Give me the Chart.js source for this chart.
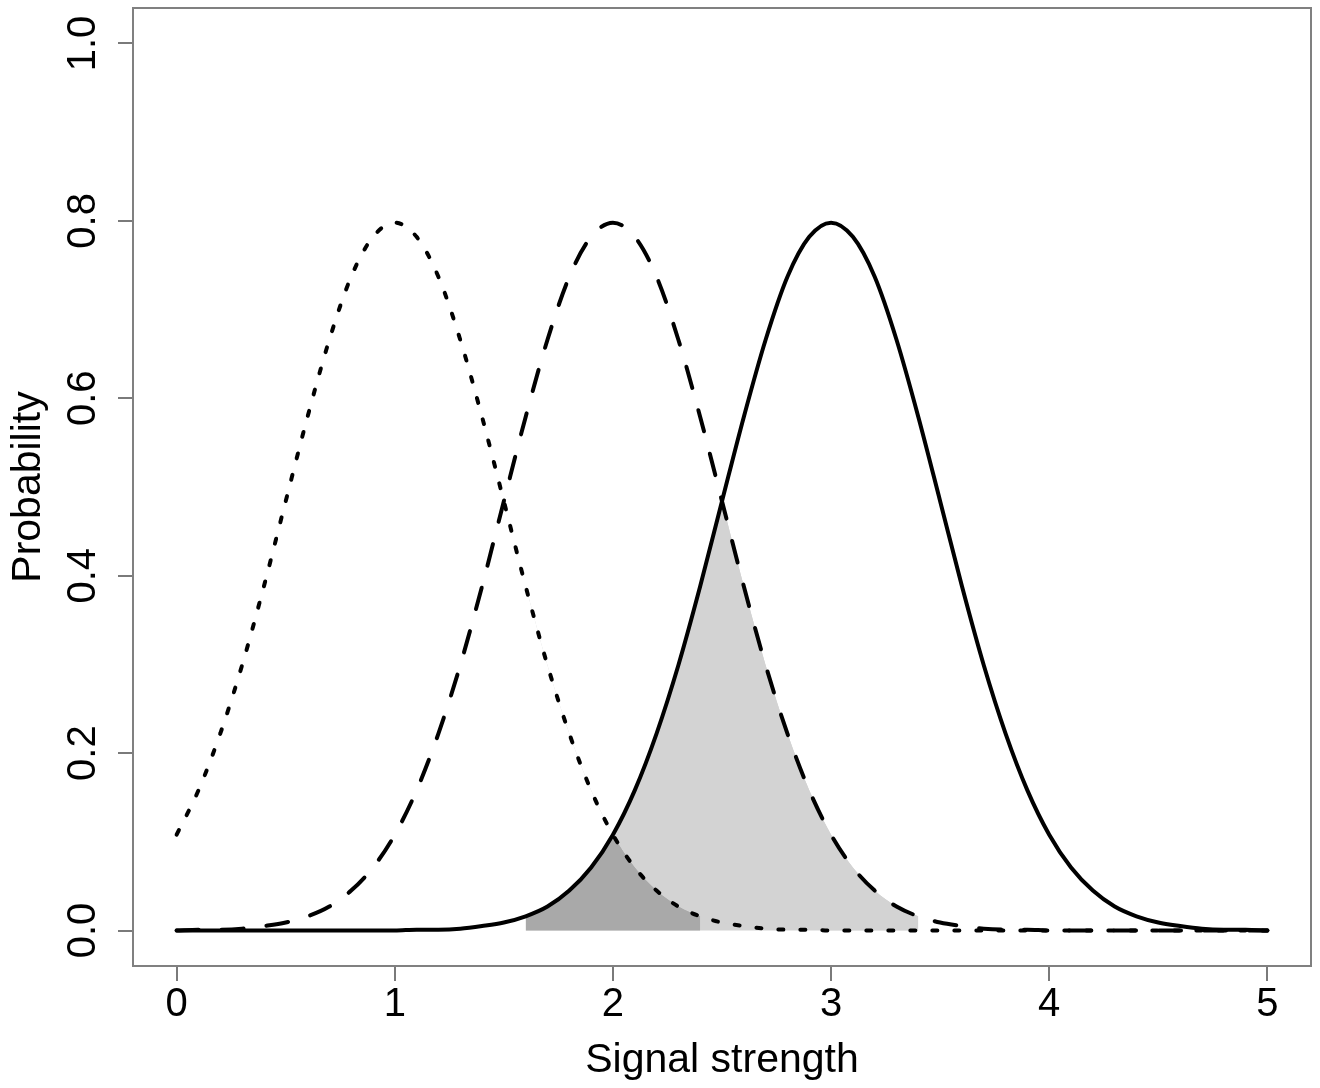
<!DOCTYPE html>
<html>
<head>
<meta charset="utf-8">
<style>
  html, body { margin: 0; padding: 0; background: #ffffff; }
  #wrap { width: 1320px; height: 1088px; }
</style>
<script src="https://cdn.jsdelivr.net/npm/chart.js@4.4.1/dist/chart.umd.min.js"></script>
</head>
<body>
<div id="wrap"><canvas id="c" width="1320" height="1088"></canvas></div>
<script>
// ---- data ----
const signal = [
  0.0,0.1,0.2,0.3,0.4,0.5,0.6,0.7,0.8,0.9,
  1.0,1.1,1.2,1.3,1.4,1.5,1.6,1.7,1.8,1.9,
  2.0,2.1,2.2,2.3,2.4,2.5,2.6,2.7,2.8,2.9,
  3.0,3.1,3.2,3.3,3.4,3.5,3.6,3.7,3.8,3.9,
  4.0,4.1,4.2,4.3,4.4,4.5,4.6,4.7,4.8,4.9,5.0
];
// dotted curve (centred at 1)
const weakCurve = [
  0.108,0.158,0.222,0.299,0.388,0.484,0.579,0.666,0.737,0.782,
  0.798,0.782,0.737,0.666,0.579,0.484,0.388,0.299,0.222,0.158,
  0.108,0.071,0.045,0.027,0.016,0.009,0.005,0.002,0.001,0.001,
  0,0,0,0,0,0,0,0,0,0,
  0,0,0,0,0,0,0,0,0,0,0
];
// dashed curve (centred at 2)
const mediumCurve = [
  0,0.001,0.001,0.002,0.005,0.009,0.016,0.027,0.045,0.071,
  0.108,0.158,0.222,0.299,0.388,0.484,0.579,0.666,0.737,0.782,
  0.798,0.782,0.737,0.666,0.579,0.484,0.388,0.299,0.222,0.158,
  0.108,0.071,0.045,0.027,0.016,0.009,0.005,0.002,0.001,0.001,
  0,0,0,0,0,0,0,0,0,0,0
];
// solid curve (centred at 3)
const strongCurve = [
  0,0,0,0,0,0,0,0,0,0,
  0,0.001,0.001,0.002,0.005,0.009,0.016,0.027,0.045,0.071,
  0.108,0.158,0.222,0.299,0.388,0.484,0.579,0.666,0.737,0.782,
  0.798,0.782,0.737,0.666,0.579,0.484,0.388,0.299,0.222,0.158,
  0.108,0.071,0.045,0.027,0.016,0.009,0.005,0.002,0.001,0.001,0
];
// shaded-region limits (x values)
const shadeStart = 1.6;
const lightEnd = 3.4;
const darkEnd = 2.4;

const xTicks = [0, 1, 2, 3, 4, 5];
const yTicks = [0.0, 0.2, 0.4, 0.6, 0.8, 1.0];
const xTitle = 'Signal strength';
const yTitle = 'Probability';

// ---- build library structures ----
function pts(arr, from, to) {
  const out = [];
  signal.forEach((x, i) => {
    if ((from === undefined || x >= from - 1e-9) && (to === undefined || x <= to + 1e-9)) {
      out.push({ x: x, y: arr[i] });
    }
  });
  return out;
}

const FONT = "'Liberation Sans', Arial, Helvetica, sans-serif";
const LIGHT = '#d3d3d3';
const DARK = '#a9a9a9';
const NONE = 'rgba(0,0,0,0)';

const lineBase = {
  pointRadius: 0,
  borderWidth: 4,
  borderColor: '#000000',
  cubicInterpolationMode: 'monotone',
  fill: false,
  order: 0
};
const fillBase = {
  pointRadius: 0,
  borderWidth: 0,
  borderColor: NONE,
  cubicInterpolationMode: 'monotone'
};

// indices: 0 lightBase, 1 darkBase, 2 weakRef, 3 lightCut, 4 mediumRef, 5 whiteCut, 6-8 lines
const datasets = [
  Object.assign({}, fillBase, { label: 'lightBase', data: pts(strongCurve, shadeStart, lightEnd), backgroundColor: LIGHT, fill: 'origin', order: 9 }),
  Object.assign({}, fillBase, { label: 'darkBase', data: pts(strongCurve, shadeStart, darkEnd), backgroundColor: DARK, fill: 'origin', order: 8 }),
  Object.assign({}, fillBase, { label: 'weakRef', data: pts(weakCurve, shadeStart, lightEnd), backgroundColor: NONE, fill: false, order: 10 }),
  Object.assign({}, fillBase, { label: 'lightCut', data: pts(strongCurve, shadeStart, lightEnd), backgroundColor: NONE, fill: { target: 2, above: LIGHT, below: NONE }, order: 7 }),
  Object.assign({}, fillBase, { label: 'mediumRef', data: pts(mediumCurve), backgroundColor: NONE, fill: false, order: 10 }),
  Object.assign({}, fillBase, { label: 'whiteCut', data: pts(strongCurve), backgroundColor: NONE, fill: { target: 4, above: '#ffffff', below: NONE }, order: 6 }),
  Object.assign({}, lineBase, { label: 'weak', data: pts(weakCurve), borderDash: [5, 17], borderCapStyle: 'round' }),
  Object.assign({}, lineBase, { label: 'medium', data: pts(mediumCurve), borderDash: [22, 23], borderCapStyle: 'round' }),
  Object.assign({}, lineBase, { label: 'strong', data: pts(strongCurve), borderCapStyle: 'round' })
];

const boxPlugin = {
  id: 'box',
  afterDraw(chart) {
    const a = chart.chartArea;
    const ctx = chart.ctx;
    ctx.save();
    ctx.strokeStyle = '#808080';
    ctx.lineWidth = 2;
    ctx.strokeRect(a.left, a.top, a.right - a.left, a.bottom - a.top);
    ctx.restore();
  }
};

new Chart(document.getElementById('c'), {
  type: 'line',
  data: { datasets: datasets },
  plugins: [boxPlugin],
  options: {
    responsive: false,
    animation: false,
    devicePixelRatio: 1,
    layout: { padding: { top: 8, right: 9, left: 0, bottom: 0 } },
    plugins: { legend: { display: false }, tooltip: { enabled: false } },
    scales: {
      x: {
        type: 'linear',
        min: -0.2,
        max: 5.2,
        afterFit: (s) => { s.height = 122; s.paddingLeft = 0; s.paddingRight = 0; },
        afterBuildTicks: (s) => { s.ticks = xTicks.map(v => ({ value: v })); },
        ticks: {
          stepSize: 1,
          includeBounds: false,
          maxRotation: 0,
          padding: 0,
          color: '#000000',
          font: { family: FONT, size: 40 },
          callback: (v) => String(v)
        },
        grid: { drawOnChartArea: false, drawTicks: true, tickLength: 15, color: '#7a7a7a', lineWidth: 2 },
        border: { display: false },
        title: { display: true, text: xTitle, color: '#000000', font: { family: FONT, size: 41 }, padding: { top: 0, bottom: 3 } }
      },
      y: {
        type: 'linear',
        min: -0.04,
        max: 1.04,
        afterFit: (s) => { s.width = 133; s.paddingTop = 0; s.paddingBottom = 0; },
        afterBuildTicks: (s) => { s.ticks = yTicks.map(v => ({ value: v })); },
        ticks: {
          stepSize: 0.2,
          includeBounds: false,
          minRotation: 90,
          maxRotation: 90,
          crossAlign: 'center',
          padding: 6,
          color: '#000000',
          font: { family: FONT, size: 40 },
          callback: (v) => Number(v).toFixed(1)
        },
        grid: { drawOnChartArea: false, drawTicks: true, tickLength: 15, color: '#7a7a7a', lineWidth: 2 },
        border: { display: false },
        title: { display: true, text: yTitle, color: '#000000', font: { family: FONT, size: 41 }, padding: { top: 4, bottom: 0 } }
      }
    }
  }
});
</script>
</body>
</html>
